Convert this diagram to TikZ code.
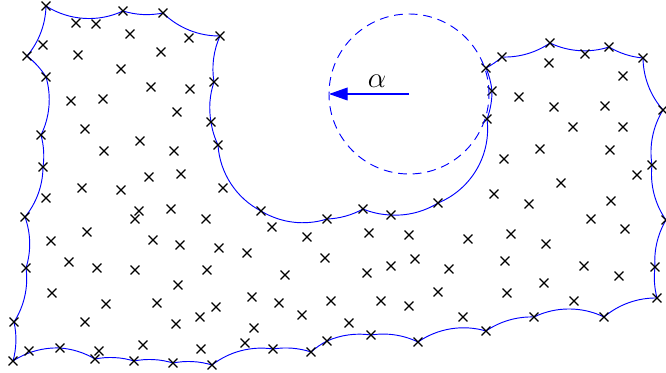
\documentclass[tikz,border=0pt]{standalone}
\usetikzlibrary{shapes.misc,arrows.meta,calc}
\pgfdeclarelayer{bg}
\pgfsetlayers{bg,main}
\tikzset{
  sample/.style={cross out, draw, line width=1pt, minimum size=6.5pt, inner sep=0pt},
  hull/.style={blue, line width=0.8pt},
}

\begin{document}
\begin{tikzpicture}[x=0.03cm,y=-0.03cm]
  \useasboundingbox (0,0) rectangle (666,373);

  % samples on the boundary, clockwise from the top left
  \foreach \x/\y [count=\i] in {46/6, 123/11, 163/13, 220/36, 214/82, 211/122, 218/145,
      261/211, 327/219, 363/209, 391/215, 438/203, 487/119, 492/91, 486/68, 502/57,
      550/43, 609/47, 643/58, 663/110, 652/165, 666/220, 655/267, 657/298, 604/317,
      534/317, 486/331, 418/342, 371/335, 327/341, 311/352, 273/349, 212/365, 173/363,
      134/361, 95/359, 60/348, 13/361, 14/322, 26/268, 25/217, 43/167, 41/135, 46/77, 27/56}
    \node[sample] (b\i) at (\x,\y) {};

  % samples inside
  \foreach \x/\y [count=\i] in {76/23, 96/24, 130/34, 189/38, 43/45, 78/55, 161/52, 121/69,
      151/87, 190/89, 71/101, 103/99, 177/112, 85/129, 140/141, 104/151, 174/151, 149/177,
      181/174, 82/188, 121/190, 223/188, 46/198, 139/211, 135/219, 171/209, 206/219, 87/232,
      51/241, 153/240, 180/245, 219/248, 69/262, 97/268, 135/270, 207/270, 178/285, 52/293,
      106/304, 157/303, 216/307, 85/322, 200/317, 176/324, 143/345, 201/349, 99/351, 29/351,
      272/227, 307/237, 247/253, 325/258, 369/233, 409/235, 415/259, 367/273, 391/266,
      449/269, 285/275, 252/297, 279/303, 331/301, 381/301, 409/306, 438/292, 302/315,
      349/323, 254/328, 245/343, 494/194, 561/183, 529/204, 611/201, 591/219, 625/229,
      468/239, 511/234, 546/244, 505/261, 584/266, 619/276, 507/293, 544/283, 574/301,
      463/317, 585/54, 549/63, 623/76, 519/97, 554/107, 605/106, 573/127, 623/127, 540/149,
      610/150, 504/159, 637/175}
    \node[sample] (s\i) at (\x,\y) {};

  % arcs of radius alpha between neighbours
  \begin{pgfonlayer}{bg}
    \foreach \i [evaluate=\i as \j using {int(mod(\i,45)+1)}] in {1,...,45}
      \draw[hull] let \p1=(b\i), \p2=(b\j),
          \n1={scalar(veclen(\x2-\x1,\y2-\y1))},
          \n2={asin(min(\n1/136.57,1))},
          \n3={1/(3*0.3915*cos(\n2/2)^2)} in
        (b\i.center) to[bend right=\n2, looseness=\n3] (b\j.center);
  \end{pgfonlayer}

  % the probing disc
  \coordinate (ctr) at (409,94);
  \coordinate (rim) at (329,94);
  \draw[blue, line width=0.8pt, dash pattern=on 7.5pt off 5pt] (ctr) circle [radius=2.4cm];
  \draw[blue, line width=0.9pt, -{Triangle[length=16pt,width=11pt]}] (ctr) -- (rim);
  \node[font=\Huge] (alpha) at (377,81) {$\alpha$};
\end{tikzpicture}
\end{document}
